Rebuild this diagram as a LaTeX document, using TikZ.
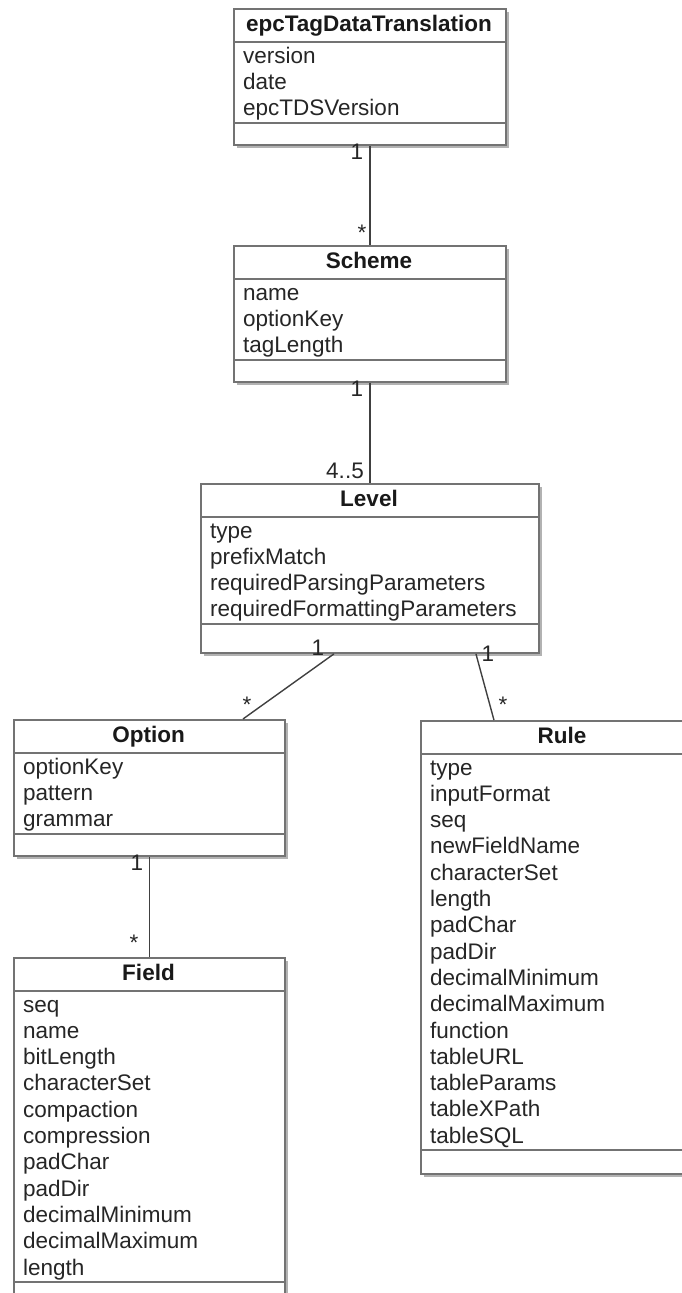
\documentclass[tikz,border=0pt]{standalone}
\usepackage{fontspec}
\setmainfont{Liberation Sans}
\usetikzlibrary{shadows,calc}

\tikzset{
  classframe/.style={draw=black!55, line width=1.9pt, fill=white, anchor=north west,
    inner sep=0pt,
    drop shadow={shadow xshift=3.5pt, shadow yshift=-3.5pt, fill=black, opacity=0.3}},
  sepline/.style={draw=black!55, line width=1.9pt},
  classtitle/.style={anchor=base, inner sep=0pt,
    font=\fontsize{22.5}{26}\selectfont\bfseries, text=black!90},
  attr/.style={anchor=base west, inner sep=0pt,
    font=\fontsize{22.5}{26}\selectfont, text=black!85},
  assoc/.style={draw=black!75, line width=1.4pt},
  mult/.style={anchor=base, inner sep=0pt,
    font=\fontsize{22.5}{26}\selectfont, text=black!85},
}

% #1 name, #2 left, #3 top, #4 right, #5 bottom, #6 title, #7 attributes
\newcommand\umlclass[7]{%
  \pgfmathsetmacro\cw{#4-(#2)}%
  \pgfmathsetmacro\ch{#5-(#3)}%
  \node[classframe, minimum width=\cw pt, minimum height=\ch pt] (#1) at (#2,#3) {};
  \node[classtitle] (#1-title) at ({(#2+#4)/2},{#3+23}) {#6};
  \draw[sepline] (#2,{#3+34}) -- (#4,{#3+34});
  \foreach \a [count=\i] in {#7} {
    \node[attr] (#1-a\i) at ({#2+10},{#3+34+21+(\i-1)*26.3}) {\a};
    \xdef\lastattr{\i}
  }
  \pgfmathsetmacro\asep{#3+34+28+(\lastattr-1)*26.3}%
  \draw[sepline] (#2,\asep) -- (#4,\asep);
}

\begin{document}
\begin{tikzpicture}[x=1pt, y=-1pt]
  \useasboundingbox (0,0) rectangle (682,1293);
  \clip (0,0) rectangle (682,1293);

  \umlclass{epc}{233}{8}{505}{144}{epcTagDataTranslation}{version,date,epcTDSVersion}
  \umlclass{scheme}{233}{245}{505}{381}{Scheme}{name,optionKey,tagLength}
  \umlclass{level}{200}{483}{538}{652}{Level}{type,prefixMatch,requiredParsingParameters,requiredFormattingParameters}
  \umlclass{option}{13}{719}{284}{855}{Option}{optionKey,pattern,grammar}
  \umlclass{rule}{420}{720}{704}{1173}{Rule}{type,inputFormat,seq,newFieldName,characterSet,length,padChar,padDir,decimalMinimum,decimalMaximum,function,tableURL,tableParams,tableXPath,tableSQL}
  \umlclass{field}{13}{957}{284}{1306}{Field}{seq,name,bitLength,characterSet,compaction,compression,padChar,padDir,decimalMinimum,decimalMaximum,length}

  % associations
  \draw[assoc] (epc.south) -- (scheme.north);
  \draw[assoc] (scheme.south) -- (level.north);
  \draw[assoc] ($(level.south)+(-36,0)$) -- ($(option.north)+(93.5,0)$);
  \draw[assoc] ($(level.south)+(106,0)$) -- ($(rule.north)+(-69,0)$);
  \draw[assoc] (option.south) -- (field.north);

  % multiplicities
  \node[mult] (m1a) at (357,159) {1};
  \node[mult] (m1b) at (362,240) {*};
  \node[mult] (m2a) at (357,396) {1};
  \node[mult] (m2b) at (345,478) {4..5};
  \node[mult] (m3a) at (318,655) {1};
  \node[mult] (m3b) at (247,712) {*};
  \node[mult] (m4a) at (488,661) {1};
  \node[mult] (m4b) at (503,712) {*};
  \node[mult] (m5a) at (137,870) {1};
  \node[mult] (m5b) at (134,950) {*};
\end{tikzpicture}
\end{document}
